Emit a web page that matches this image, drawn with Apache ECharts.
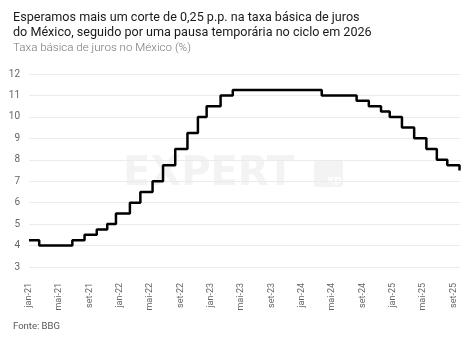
<!DOCTYPE html>
<html>
<head>
<meta charset="utf-8">
<script src="https://cdn.jsdelivr.net/npm/echarts@6/dist/echarts.min.js"></script>
<style>
html,body{margin:0;padding:0;background:#fff;}
#c{width:472px;height:338px;}
</style>
</head>
<body>
<div id="c"></div>
<script>
// Banxico policy rate (%), value in force from each date
const changeDates = ['2021-01-01','2021-02-11','2021-06-24','2021-08-12','2021-09-30','2021-11-11','2021-12-16',
  '2022-02-10','2022-03-24','2022-05-12','2022-06-23','2022-08-11','2022-09-29','2022-11-10','2022-12-15',
  '2023-02-09','2023-03-30','2024-03-21','2024-08-08','2024-09-26','2024-11-14','2024-12-19',
  '2025-02-06','2025-03-27','2025-05-15','2025-06-26','2025-08-07','2025-09-25','2025-09-27'];
const rates = [4.25,4.00,4.25,4.50,4.75,5.00,5.50,
  6.00,6.50,7.00,7.75,8.50,9.25,10.00,10.50,
  11.00,11.25,11.00,10.75,10.50,10.25,10.00,
  9.50,9.00,8.50,8.00,7.75,7.50,7.50];
const tickDates = ['2021-01-01','2021-05-01','2021-09-01','2022-01-01','2022-05-01','2022-09-01','2023-01-01',
  '2023-05-01','2023-09-01','2024-01-01','2024-05-01','2024-09-01','2025-01-01','2025-05-01','2025-09-01'];
const tickLabels = ['jan-21','mai-21','set-21','jan-22','mai-22','set-22','jan-23','mai-23','set-23',
  'jan-24','mai-24','set-24','jan-25','mai-25','set-25'];

const ts = d => new Date(d + 'T00:00:00Z').getTime();
const tickTs = tickDates.map(ts);
const labelMap = {};
tickTs.forEach((t, i) => labelMap[t] = tickLabels[i]);

const chart = echarts.init(document.getElementById('c'), null, {renderer: 'canvas'});
const FONT = 'Roboto';
chart.setOption({
  animation: false,
  backgroundColor: '#fff',
  title: [
    {text: 'Esperamos mais um corte de 0,25 p.p. na taxa básica de juros\ndo México, seguido por uma pausa temporária no ciclo em 2026',
     left: 8, top: 5, textStyle: {fontFamily: FONT, fontSize: 12.6, fontWeight: 'normal', color: '#1a1a1a', lineHeight: 15.5}},
    {text: 'Taxa básica de juros no México (%)', left: 8, top: 37,
     textStyle: {fontFamily: FONT, fontSize: 11.6, fontWeight: 300, color: '#777'}},
    {text: 'Fonte: BBG', left: 8, top: 317,
     textStyle: {fontFamily: FONT, fontSize: 9.5, fontWeight: 'normal', color: '#555'}}
  ],
  graphic: [
    {type: 'text', left: 123, top: 155, z: -10, silent: true,
     style: {text: 'EXPERT', font: 'bold 40px "DejaVu Sans"', fill: '#f3f3f3'}},
    {type: 'rect', left: 314, top: 160, z: -10, silent: true,
     shape: {width: 29, height: 27, r: 3}, style: {fill: '#f3f3f3'}},
    {type: 'text', left: 327, top: 175, z: -9, silent: true,
     style: {text: 'xp', font: 'bold 11px "DejaVu Sans"', fill: '#ffffff'}}
  ],
  grid: {left: 29, right: 12, top: 74, bottom: 71, containLabel: false},
  xAxis: {
    type: 'value',
    min: ts('2021-01-01'), max: ts('2025-09-27'),
    axisLine: {show: false}, axisTick: {show: false}, splitLine: {show: false},
    axisLabel: {
      customValues: tickTs, rotate: 90, margin: 16, fontFamily: FONT, fontSize: 9, color: '#666',
      formatter: v => labelMap[v] || ''
    }
  },
  yAxis: {
    type: 'value', min: 3, max: 12, interval: 1,
    axisLine: {show: false}, axisTick: {show: false},
    splitLine: {lineStyle: {color: '#ebebeb', width: 1}},
    axisLabel: {fontFamily: FONT, fontSize: 10, color: '#666', margin: 9}
  },
  series: [{
    type: 'line', step: 'end', showSymbol: false, z: 5,
    lineStyle: {color: '#000', width: 2.5},
    data: changeDates.map((d, i) => [ts(d), rates[i]])
  }]
});
</script>
</body>
</html>
